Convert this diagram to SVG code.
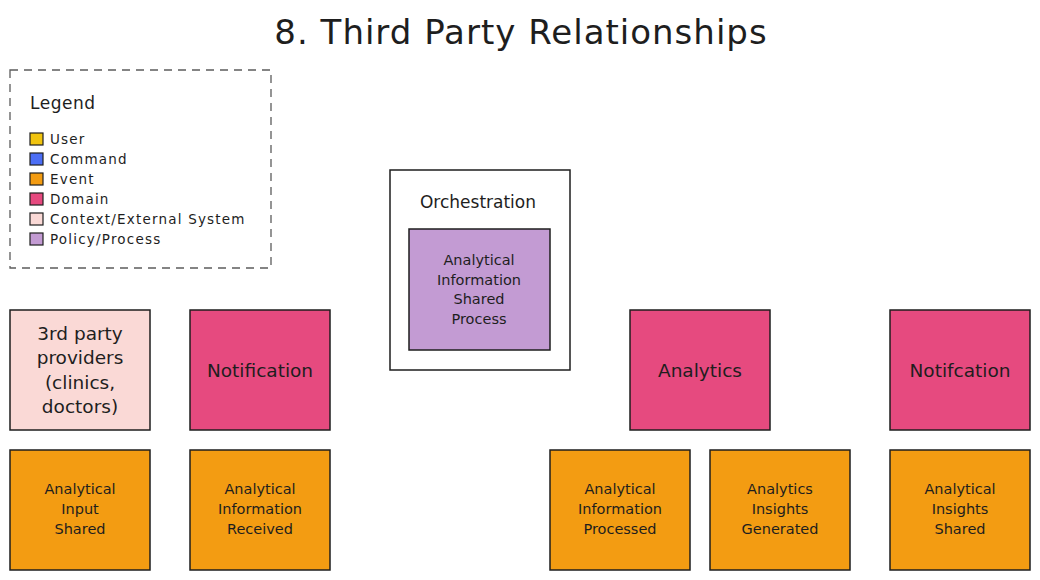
<svg xmlns="http://www.w3.org/2000/svg" width="1040" height="580" viewBox="0 0 1040 580">
<style>
text{font-family:"DejaVu Sans","Liberation Sans",Arial,sans-serif;fill:#1e1e1e;text-anchor:middle;dominant-baseline:central}
.box{stroke:#1e1e1e;stroke-width:1.5}
.sw{stroke:#1e1e1e;stroke-width:1.2}
.ev{fill:#f39c12}
.dom{fill:#e64a7f}
.ctx{fill:#fad9d6}
.pol{fill:#c39bd3}
.lg{text-anchor:start;font-size:13.5px;letter-spacing:1.2px}
.t15{font-size:14.5px}
.t19{font-size:18.5px}
</style>
<rect width="1040" height="580" fill="#ffffff"/>
<text x="521" y="32" style="font-size:34px;letter-spacing:1px">8. Third Party Relationships</text>

<g id="legend">
<rect x="10" y="70" width="261" height="198" fill="none" stroke="#5c5c5c" stroke-width="1.3" stroke-dasharray="8 6"/>
<text x="30" y="103" class="lg" style="font-size:17px;letter-spacing:0.5px">Legend</text>
<rect x="30" y="133" width="13" height="12" class="sw" fill="#f1c40f"/><text x="50" y="139" class="lg">User</text>
<rect x="30" y="153" width="13" height="12" class="sw" fill="#4c6ef5"/><text x="50" y="159" class="lg">Command</text>
<rect x="30" y="173" width="13" height="12" class="sw" fill="#f39c12"/><text x="50" y="179" class="lg">Event</text>
<rect x="30" y="193" width="13" height="12" class="sw" fill="#e64a7f"/><text x="50" y="199" class="lg">Domain</text>
<rect x="30" y="213" width="13" height="12" class="sw" fill="#fad9d6"/><text x="50" y="219" class="lg">Context/External System</text>
<rect x="30" y="233" width="13" height="12" class="sw" fill="#c39bd3"/><text x="50" y="239" class="lg">Policy/Process</text>
</g>

<g id="orchestration">
<rect x="390" y="170" width="180" height="200" fill="#ffffff" class="box"/>
<text x="478" y="202" style="font-size:17px">Orchestration</text>
</g>
<g id="process">
<rect x="409" y="229" width="141" height="121" class="box pol"/>
<text x="479" y="260" class="t15">Analytical</text>
<text x="479" y="280" class="t15">Information</text>
<text x="479" y="299" class="t15">Shared</text>
<text x="479" y="319" class="t15">Process</text>
</g>

<g id="third-party">
<rect x="10" y="310" width="140" height="120" class="box ctx"/>
<text x="80" y="333" class="t19">3rd party</text>
<text x="80" y="357" class="t19">providers</text>
<text x="80" y="382" class="t19">(clinics,</text>
<text x="80" y="406" class="t19">doctors)</text>
</g>
<g id="notification-1">
<rect x="190" y="310" width="140" height="120" class="box dom"/>
<text x="260" y="370" class="t19">Notification</text>
</g>
<g id="analytics">
<rect x="630" y="310" width="140" height="120" class="box dom"/>
<text x="700" y="370" class="t19">Analytics</text>
</g>
<g id="notification-2">
<rect x="890" y="310" width="140" height="120" class="box dom"/>
<text x="960" y="370" class="t19">Notifcation</text>
</g>

<g id="event-input-shared">
<rect x="10" y="450" width="140" height="120" class="box ev"/>
<text x="80" y="489" class="t15">Analytical</text>
<text x="80" y="509" class="t15">Input</text>
<text x="80" y="529" class="t15">Shared</text>
</g>
<g id="event-info-received">
<rect x="190" y="450" width="140" height="120" class="box ev"/>
<text x="260" y="489" class="t15">Analytical</text>
<text x="260" y="509" class="t15">Information</text>
<text x="260" y="529" class="t15">Received</text>
</g>
<g id="event-info-processed">
<rect x="550" y="450" width="140" height="120" class="box ev"/>
<text x="620" y="489" class="t15">Analytical</text>
<text x="620" y="509" class="t15">Information</text>
<text x="620" y="529" class="t15">Processed</text>
</g>
<g id="event-insights-generated">
<rect x="710" y="450" width="140" height="120" class="box ev"/>
<text x="780" y="489" class="t15">Analytics</text>
<text x="780" y="509" class="t15">Insights</text>
<text x="780" y="529" class="t15">Generated</text>
</g>
<g id="event-insights-shared">
<rect x="890" y="450" width="140" height="120" class="box ev"/>
<text x="960" y="489" class="t15">Analytical</text>
<text x="960" y="509" class="t15">Insights</text>
<text x="960" y="529" class="t15">Shared</text>
</g>

<g id="connectors"></g>
</svg>
